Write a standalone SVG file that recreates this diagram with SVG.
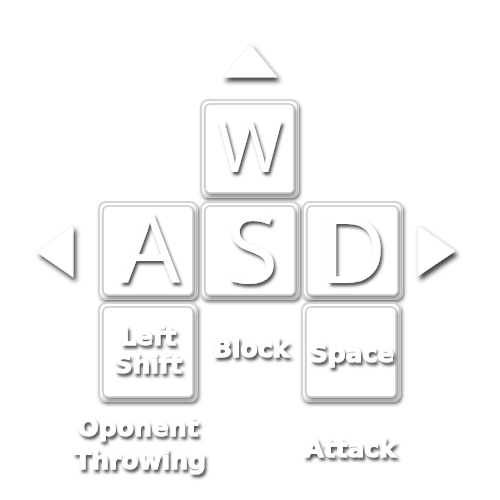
<svg xmlns="http://www.w3.org/2000/svg" width="500" height="500" viewBox="0 0 500 500">
<defs>
<filter id="sh" x="-20%" y="-20%" width="150%" height="150%">
<feDropShadow dx="1.5" dy="2.5" stdDeviation="1.5" flood-color="#333" flood-opacity="0.6"/>
</filter>
<filter id="tsh" x="-20%" y="-20%" width="150%" height="150%">
<feDropShadow dx="2" dy="3" stdDeviation="1.5" flood-color="#333" flood-opacity="0.85"/>
</filter>
<filter id="trsh" x="-30%" y="-30%" width="170%" height="170%">
<feDropShadow dx="2.5" dy="4" stdDeviation="2" flood-color="#222" flood-opacity="0.85"/>
</filter>
</defs>
<style>
.outer{fill:#fff;stroke:#d4d4d4;stroke-width:2;filter:url(#sh)}
.inner{fill:#fff;stroke:#c8c8c8;stroke-width:1.5;filter:url(#sh)}
.big{font-family:"Open Sans","Noto Sans",sans-serif;fill:#fff;text-anchor:middle;filter:url(#tsh)}
.lbl{font-family:"DejaVu Sans",sans-serif;font-weight:bold;font-size:25px;fill:#fff;stroke:#fff;stroke-width:1;text-anchor:middle;filter:url(#tsh)}
.tri{fill:#fff;stroke:#f0f0f0;stroke-width:1;filter:url(#trsh)}
</style>
<rect width="500" height="500" fill="#fff"/>
<g id="arrow-up"><polygon class="tri" points="250,44 277,77 223,77"/></g>
<g id="arrow-left"><polygon class="tri" points="37,252 73,225 73,277"/></g>
<g id="arrow-right"><polygon class="tri" points="455,251 418,225 418,276"/></g>
<g id="key-w">
<rect class="outer" x="201" y="100" width="97" height="97" rx="7"/>
<rect class="inner" x="205" y="104" width="89" height="89" rx="5"/>
<text class="big" x="250" y="172" font-size="71">W</text>
</g>
<g id="key-a">
<rect class="outer" x="99" y="202" width="98" height="97" rx="7"/>
<rect class="inner" x="103" y="206" width="90" height="89" rx="5"/>
<text class="big" x="150" y="283" font-size="95">A</text>
</g>
<g id="key-s">
<rect class="outer" x="201" y="202" width="98" height="97" rx="7"/>
<rect class="inner" x="205" y="206" width="90" height="89" rx="5"/>
<text class="big" x="252" y="283" font-size="95">S</text>
</g>
<g id="key-d">
<rect class="outer" x="303" y="202" width="99" height="97" rx="7"/>
<rect class="inner" x="307" y="206" width="91" height="89" rx="5"/>
<text class="big" x="353" y="283" font-size="92">D</text>
</g>
<g id="key-shift">
<rect class="outer" x="99" y="303" width="98" height="98" rx="7"/>
<rect class="inner" x="103" y="307" width="90" height="90" rx="5"/>
<text class="lbl" x="148" y="345" font-size="23">Left</text>
<text class="lbl" x="148" y="373" font-size="23">Shift</text>
</g>
<g id="key-space">
<rect class="outer" x="302" y="303" width="98" height="98" rx="7"/>
<rect class="inner" x="306" y="307" width="90" height="90" rx="5"/>
<text class="lbl" x="352" y="362" font-size="24">Space</text>
</g>
<g id="labels">
<text class="lbl" x="251" y="357">Block</text>
<text class="lbl" x="138" y="436">Oponent</text>
<text class="lbl" x="140" y="469">Throwing</text>
<text class="lbl" x="350" y="457">Attack</text>
</g>
</svg>
